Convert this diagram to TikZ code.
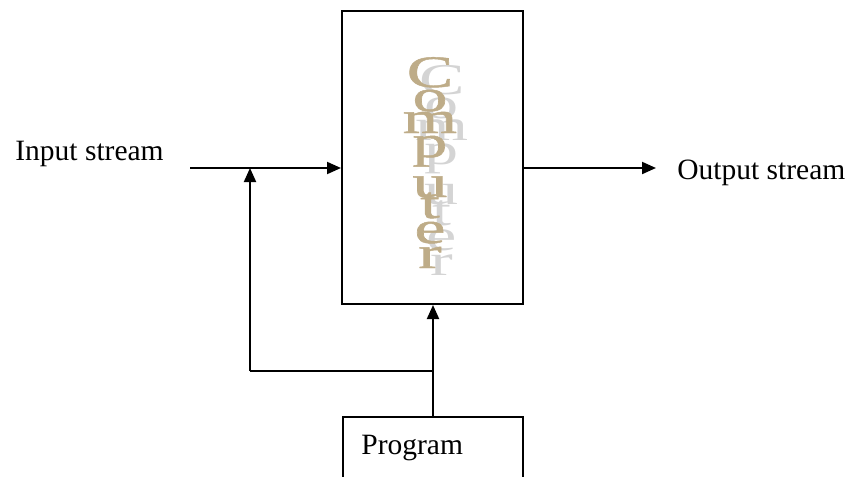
\documentclass[tikz,border=0pt]{standalone}
\usepackage{fontspec}
\setmainfont{Liberation Serif}
\newfontfamily\wordfont[FakeBold=1]{Liberation Serif}
\usetikzlibrary{arrows.meta}
\definecolor{tan}{RGB}{190,172,136}
\definecolor{shade}{RGB}{212,212,212}
\newcommand{\wrow}[1]{\hbox to 0pt{\hss\smash{\scalebox{1.55}[1]{#1}}\hss}}
\newcommand{\wordstack}{\vbox{\offinterlineskip
  \wrow{C}\kern12pt
  \wrow{o}\kern11pt
  \wrow{m}\kern12pt
  \wrow{p}\kern20pt
  \wrow{u}\kern10.5pt
  \wrow{t}\kern12.5pt
  \wrow{e}\kern12.5pt
  \wrow{r}}}
\tikzset{
  box/.style={draw=black, line width=1pt, inner sep=0pt},
  lbl/.style={font=\fontsize{14.75}{18}\selectfont, inner sep=0pt},
  conn/.style={line width=1pt},
  arr/.style={conn, -{Triangle[length=7pt,width=6pt]}},
  wordmain/.style={font=\wordfont\fontsize{22.5}{26}\selectfont, text=tan, inner sep=0pt, anchor=base},
  wordshadow/.style={font=\fontsize{22}{26}\selectfont, text=shade, inner sep=0pt, anchor=base},
}
\begin{document}
\begin{tikzpicture}[x=0.5pt,y=-0.5pt]
\useasboundingbox (0,0) rectangle (849,476);
\clip (0,0) rectangle (849,476);
% boxes
\node[box, minimum width=90.5pt, minimum height=146.5pt, anchor=north west] (comp) at (341,10) {};
\node[box, minimum width=90pt, minimum height=40pt, anchor=north west] (prog) at (342,416) {};
\node[lbl, anchor=base west] (progtext) at (361,454) {Program};
% vertical word with shadow
\node[wordshadow] (wsh) at (442,275) {\wordstack};
\node[wordmain] (wtext) at (430,268) {\wordstack};
% labels
\node[lbl, anchor=base west] (intext) at (15,160) {Input stream};
\node[lbl, anchor=base west] (outtext) at (677,179) {Output stream};
% coordinates
\coordinate (in) at (190,168);
\coordinate (j) at (250,168);
\coordinate (c1) at (250,371);
\coordinate (outend) at (656,168);
% connectors
\draw[arr] (in) -- (comp.west |- in);
\draw[arr] (comp.east |- outend) -- (outend);
\draw[arr] (c1) -- (j);
\draw[conn] (prog.north |- c1) -- (c1);
\draw[arr] (prog.north) -- (prog.north |- comp.south);
\end{tikzpicture}
\end{document}
